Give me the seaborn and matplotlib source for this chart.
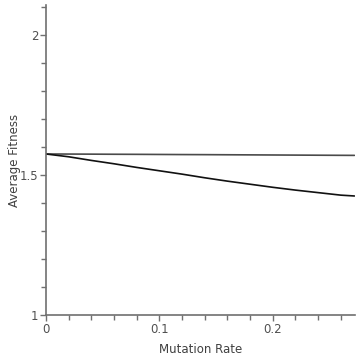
import numpy as np
import pandas as pd
import matplotlib
matplotlib.use("Agg")
import matplotlib.pyplot as plt
import seaborn as sns
from matplotlib.ticker import MultipleLocator, FixedLocator

mutation_rate = [0.0, 0.02, 0.04, 0.06, 0.08, 0.10, 0.12, 0.14, 0.16, 0.18, 0.20, 0.22, 0.24, 0.26, 0.272]
upper_fitness = [1.575, 1.5747, 1.5744, 1.5740, 1.5737, 1.5733, 1.5729, 1.5726, 1.5722, 1.5718, 1.5714, 1.5710, 1.5706, 1.5702, 1.5700]
lower_fitness = [1.575, 1.565, 1.552, 1.540, 1.527, 1.515, 1.503, 1.490, 1.478, 1.467, 1.456, 1.446, 1.437, 1.428, 1.425]
series_names = ["upper", "lower"]

df = pd.concat([
    pd.DataFrame({"rate": mutation_rate, "fitness": upper_fitness, "series": series_names[0]}),
    pd.DataFrame({"rate": mutation_rate, "fitness": lower_fitness, "series": series_names[1]}),
])

sns.set_style("white")
plt.rcParams['font.family'] = ['DejaVu Sans']

fig = plt.figure(figsize=(3.56, 3.61), dpi=100)
ax = fig.add_axes([46/356, 1-315/361, (355-46)/356, (315-5)/361])

sns.lineplot(data=df, x="rate", y="fitness", hue="series",
             palette={"upper": "#4a4a4a", "lower": "#111111"},
             linewidth=1.2, ax=ax, legend=False)

ax.set_xlim(0, 0.2725)
ax.set_ylim(1, 2.107)

ax.xaxis.set_major_locator(FixedLocator([0, 0.1, 0.2]))
ax.xaxis.set_minor_locator(MultipleLocator(0.02))
ax.yaxis.set_major_locator(FixedLocator([1, 1.5, 2]))
ax.yaxis.set_minor_locator(MultipleLocator(0.1))
ax.set_xticklabels(["0", "0.1", "0.2"])
ax.set_yticklabels(["1", "1.5", "2"])

gray = "#707070"
for side in ["top", "right"]:
    ax.spines[side].set_visible(False)
for side in ["left", "bottom"]:
    ax.spines[side].set_color(gray)
    ax.spines[side].set_linewidth(1.2)

ax.tick_params(axis="both", which="both", direction="out", color=gray, width=1.0,
               bottom=True, left=True, top=False, right=False,
               labelcolor="#505050", labelsize=8.5)
ax.tick_params(axis="both", which="major", length=4, pad=1.5)
ax.tick_params(axis="both", which="minor", length=3.5)

ax.set_xlabel("Mutation Rate", fontsize=8.5, color="#404040", labelpad=5)
ax.set_ylabel("Average Fitness", fontsize=8.5, color="#404040")
ax.yaxis.set_label_coords(-0.082, 0.5)

fig.savefig("out.png", dpi=100)
